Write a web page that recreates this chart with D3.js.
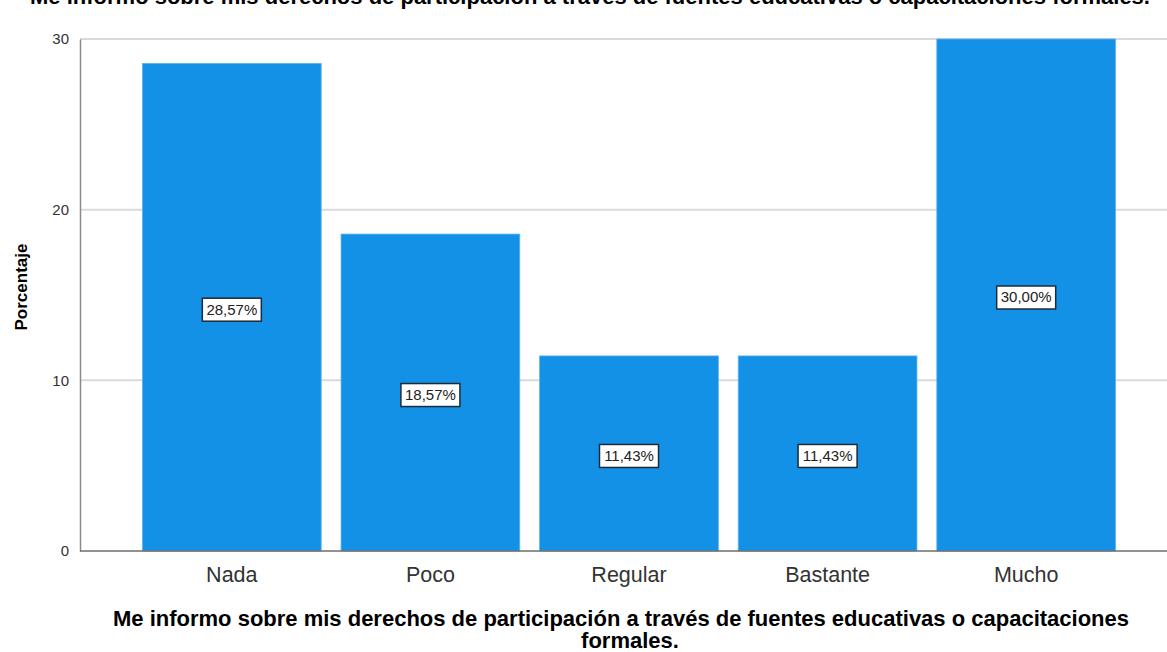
<!DOCTYPE html>
<meta charset="utf-8">
<style>
  body { margin: 0; background: #fff; }
  svg { display: block; font-family: "Liberation Sans", Arial, sans-serif; }
  .grid line { stroke: #d9d9d9; stroke-width: 2; }
  .tick text { fill: #333; }
</style>
<body>
<script src="https://cdn.jsdelivr.net/npm/d3@7"></script>
<script>
// data
var categories = ["Nada", "Poco", "Regular", "Bastante", "Mucho"];
var percents = [28.57, 18.57, 11.43, 11.43, 30.00];
var labels = ["28,57%", "18,57%", "11,43%", "11,43%", "30,00%"];
var yTicks = [0, 10, 20, 30];
var title = "Me informo sobre mis derechos de participación a través de fuentes educativas o capacitaciones formales.";
var xTitle = ["Me informo sobre mis derechos de participación a través de fuentes educativas o capacitaciones", "formales."];

var width = 1167, height = 652;
var margin = {top: 39, left: 80, bottom: 101};

var svg = d3.select("body").append("svg")
    .attr("width", width)
    .attr("height", height);

var x = d3.scaleBand()
    .domain(categories)
    .range([margin.left, 1178])
    .paddingInner(0.1)
    .paddingOuter(0.3145);

var y = d3.scaleLinear()
    .domain([0, 30])
    .range([height - margin.bottom, margin.top]);

// gridlines
svg.append("g")
    .attr("class", "grid")
    .selectAll("line")
    .data(yTicks.filter(function(d) { return d > 0; }))
    .enter().append("line")
    .attr("x1", margin.left).attr("x2", width)
    .attr("y1", function(d) { return y(d); })
    .attr("y2", function(d) { return y(d); });

// bars
svg.append("g").selectAll("rect")
    .data(percents)
    .enter().append("rect")
    .attr("x", function(d, i) { return x(categories[i]); })
    .attr("y", function(d) { return y(d); })
    .attr("width", x.bandwidth())
    .attr("height", function(d) { return y(0) - y(d); })
    .attr("fill", "#1391e6")
    .attr("stroke", "#5fb2ee")
    .attr("stroke-width", 0.8);

// value labels in boxes
var lab = svg.append("g").selectAll("g")
    .data(percents)
    .enter().append("g")
    .attr("transform", function(d, i) {
      return "translate(" + (x(categories[i]) + x.bandwidth() / 2) + "," + (y(d / 2) + 2) + ")";
    });
lab.append("rect")
    .attr("x", -29.5).attr("y", -11)
    .attr("width", 59).attr("height", 23)
    .attr("fill", "#fff")
    .attr("stroke", "#1d2b38")
    .attr("stroke-width", 1.5);
lab.append("text")
    .attr("text-anchor", "middle")
    .attr("dy", "0.36em")
    .attr("font-size", 15)
    .attr("fill", "#222")
    .text(function(d, i) { return labels[i]; });

// y axis
var yAxis = svg.append("g")
    .attr("transform", "translate(" + margin.left + ",0)")
    .call(d3.axisLeft(y).tickValues(yTicks).tickSize(0).tickPadding(11));
yAxis.select(".domain").attr("stroke", "#8a8a8a").attr("stroke-width", 1.5);
yAxis.selectAll("text").attr("font-size", 15).attr("font-family", "Liberation Sans, Arial, sans-serif");

// x axis
var xAxis = svg.append("g")
    .attr("transform", "translate(0," + y(0) + ")")
    .call(d3.axisBottom(x).tickSize(0).tickPadding(16));
xAxis.select(".domain").attr("d", "M" + margin.left + ",0H" + width)
    .attr("stroke", "#6e6e6e").attr("stroke-width", 1.5);
xAxis.selectAll("text").attr("font-size", 21.5).attr("font-family", "Liberation Sans, Arial, sans-serif");

// titles
svg.append("text")
    .attr("x", 590).attr("y", 4)
    .attr("text-anchor", "middle")
    .attr("font-size", 22).attr("font-weight", "bold")
    .text(title);

svg.append("text")
    .attr("x", 621).attr("y", 626)
    .attr("text-anchor", "middle")
    .attr("font-size", 22).attr("font-weight", "bold")
    .text(xTitle[0]);
svg.append("text")
    .attr("x", 630).attr("y", 648)
    .attr("text-anchor", "middle")
    .attr("font-size", 22).attr("font-weight", "bold")
    .text(xTitle[1]);

svg.append("text")
    .attr("transform", "translate(27,287) rotate(-90)")
    .attr("text-anchor", "middle")
    .attr("font-size", 17).attr("font-weight", "bold")
    .text("Porcentaje");
</script>
</body>
